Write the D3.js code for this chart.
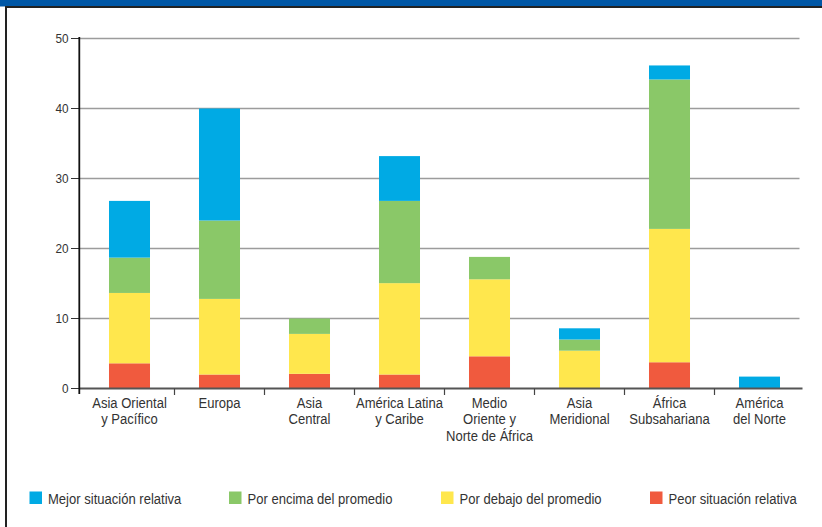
<!DOCTYPE html>
<html>
<head>
<meta charset="utf-8">
<script src="https://cdn.jsdelivr.net/npm/d3@7"></script>
<style>
  html, body { margin: 0; padding: 0; background: #fff; }
  svg { display: block; }
  text { font-family: "Liberation Sans", Arial, sans-serif; fill: #333; }
</style>
</head>
<body>
<svg id="chart" width="822" height="527"></svg>
<script>
// ---- data ----
const categories = [
  "Asia Oriental\ny Pacífico",
  "Europa",
  "Asia\nCentral",
  "América Latina\ny Caribe",
  "Medio\nOriente y\nNorte de África",
  "Asia\nMeridional",
  "África\nSubsahariana",
  "América\ndel Norte"
];
const peorSituacion   = [3.6, 2.0, 2.1, 2.0, 4.6, 0.0, 3.75, 0.0];
const porDebajo       = [10.05, 10.8, 5.7, 13.05, 11.0, 5.4, 19.05, 0.0];
const porEncima       = [5.05, 11.2, 2.2, 11.75, 3.2, 1.6, 21.35, 0.0];
const mejorSituacion  = [8.1, 16.0, 0.0, 6.4, 0.0, 1.6, 2.0, 1.7];
const yTicks = [0, 10, 20, 30, 40, 50];

const seriesNames = ["Mejor situación relativa", "Por encima del promedio", "Por debajo del promedio", "Peor situación relativa"];
const seriesKeys  = ["mejor", "encima", "debajo", "peor"];
const colors = { mejor: "#00AAE4", encima: "#8AC868", debajo: "#FFE74D", peor: "#F05A3E" };

// ---- build table ----
const table = categories.map((c, i) => ({
  cat: c,
  peor: peorSituacion[i],
  debajo: porDebajo[i],
  encima: porEncima[i],
  mejor: mejorSituacion[i]
}));

const SX = 0.87; // condensed look
const svg = d3.select("#chart");

// frame
svg.append("rect").attr("x", 0).attr("y", 0).attr("width", 822).attr("height", 6.5).attr("fill", "#0057A6");
svg.append("line").attr("x1", 5).attr("x2", 822).attr("y1", 7).attr("y2", 7).attr("stroke", "#222").attr("stroke-width", 2);
svg.append("line").attr("x1", 6).attr("x2", 6).attr("y1", 6).attr("y2", 527).attr("stroke", "#222").attr("stroke-width", 2);

// scales
const x = d3.scaleBand().domain(categories).range([84.5, 804.5]).paddingInner(0.5444).paddingOuter(0.2722);
const y = d3.scaleLinear().domain([0, 50]).range([388.5, 38.5]);
const axisX = 79.3;

// gridlines
svg.append("g").selectAll("line").data(yTicks.filter(t => t > 0)).join("line")
  .attr("x1", axisX).attr("x2", 799.5)
  .attr("y1", d => y(d)).attr("y2", d => y(d))
  .attr("stroke", "#9c9c9c").attr("stroke-width", 1.5);

// y tick marks and labels
const yg = svg.append("g");
yg.selectAll("line").data(yTicks).join("line")
  .attr("x1", 71).attr("x2", axisX).attr("y1", d => y(d)).attr("y2", d => y(d))
  .attr("stroke", "#333").attr("stroke-width", 1);
yg.selectAll("text").data(yTicks).join("text")
  .attr("transform", d => `translate(68.5,${y(d)}) scale(${SX},1)`)
  .attr("dy", "0.36em")
  .attr("text-anchor", "end").attr("font-size", 13.5).text(d => d);

// stacked bars
const stack = d3.stack().keys(["peor", "debajo", "encima", "mejor"]);
const stacked = stack(table);
svg.append("g").selectAll("g").data(stacked).join("g")
  .attr("fill", s => colors[s.key])
  .selectAll("rect").data(s => s).join("rect")
  .attr("x", d => x(d.data.cat))
  .attr("width", x.bandwidth())
  .attr("y", d => y(d[1]))
  .attr("height", d => Math.max(0, y(d[0]) - y(d[1])));

// baseline
svg.append("line").attr("x1", axisX).attr("x2", 802.5).attr("y1", y(0)).attr("y2", y(0))
  .attr("stroke", "#555").attr("stroke-width", 2.2);

// category boundary ticks
const step = x.step();
const bounds = d3.range(1, categories.length).map(i => x(categories[i]) - step * x.paddingInner() / 2);
svg.append("g").selectAll("line").data(bounds).join("line")
  .attr("x1", d => d).attr("x2", d => d).attr("y1", y(0)).attr("y2", y(0) + 6.5)
  .attr("stroke", "#444").attr("stroke-width", 1.2);

// y axis
svg.append("line").attr("x1", axisX).attr("x2", axisX).attr("y1", y(50) - 1.5).attr("y2", 394)
  .attr("stroke", "#111").attr("stroke-width", 1.8);

// category labels
const lbl = svg.append("g").selectAll("text").data(categories).join("text")
  .attr("text-anchor", "middle").attr("font-size", 15)
  .attr("transform", d => `translate(${x(d) + x.bandwidth() / 2},407.5) scale(${SX},1)`);
lbl.selectAll("tspan").data(d => d.split("\n").map((t, i) => ({ t, i }))).join("tspan")
  .attr("x", 0)
  .attr("y", d => d.i * 16.6)
  .text(d => d.t);

// legend
const legendX = [29.5, 229, 441, 650];
const lg = svg.append("g").selectAll("g").data(seriesKeys).join("g")
  .attr("transform", (d, i) => `translate(${legendX[i]},491.5)`);
lg.append("rect").attr("width", 12.5).attr("height", 12.5).attr("fill", d => colors[d]);
lg.append("text").attr("transform", `translate(18.5,12) scale(${SX},1)`).attr("font-size", 15)
  .text((d, i) => seriesNames[i]);
</script>
</body>
</html>
